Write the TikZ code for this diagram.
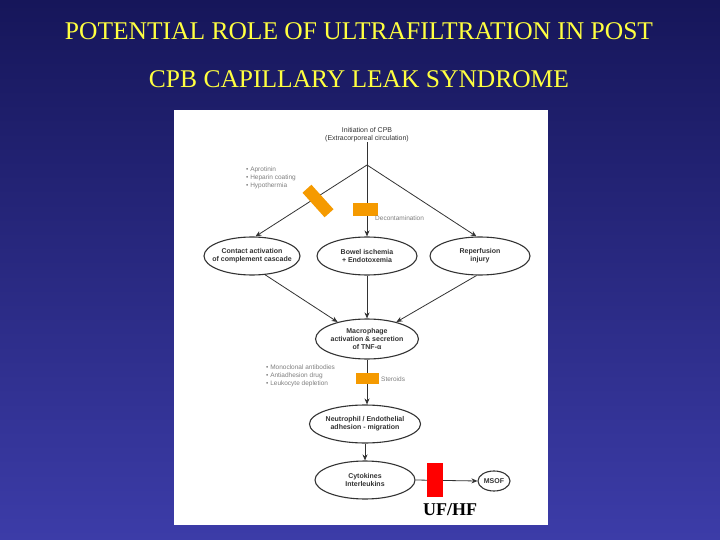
\documentclass[tikz,border=0pt]{standalone}
\usepackage{fontspec}
\setmainfont{Liberation Serif}
\newfontfamily\diag{Liberation Sans}
\usetikzlibrary{shapes.geometric,arrows.meta}
\definecolor{bgtop}{HTML}{16165A}
\definecolor{bgbot}{HTML}{3C3CA8}
\definecolor{ttl}{HTML}{FFFF40}
\definecolor{org}{HTML}{F59A00}
\definecolor{ink}{HTML}{333333}
\tikzset{
  ell/.style={ellipse,draw=ink,line width=1.1pt,minimum width=100pt,minimum height=38pt,inner sep=0pt,align=center,font=\diag\fontsize{7}{8}\selectfont\bfseries,text=ink},
  lbl/.style={font=\diag\fontsize{6.5}{8}\selectfont,text=gray,align=left,inner sep=0pt},
  arr/.style={draw=ink,line width=0.8pt,-{Stealth[length=6pt,width=5pt]}},
  ln/.style={draw=ink,line width=0.8pt},
  block/.style={fill=org,draw=none},
  ttlf/.style={font=\fontsize{25.5}{30}\selectfont,text=ttl}
}
\begin{document}
\begin{tikzpicture}[x=1pt,y=-1pt]
\shade[top color=bgtop,bottom color=bgbot] (0,0) rectangle (720,540);
\useasboundingbox (0,0) rectangle (720,540);
\node[ttlf] (t1) at (359,31) {POTENTIAL ROLE OF ULTRAFILTRATION IN POST};
\node[ttlf] (t2) at (359,79) {CPB CAPILLARY LEAK SYNDROME};
\fill[white] (174,110) rectangle (548,525);
\node[font=\diag\fontsize{7}{8}\selectfont,text=ink,align=center,inner sep=0pt] (init) at (367,135) {Initiation of CPB\\(Extracorporeal circulation)};
\coordinate (split) at (367,165);
\node[ell,minimum width=96pt,inner xsep=-6pt] (contact) at (252,256) {Contact activation\\of complement cascade};
\node[ell] (bowel) at (367,256) {Bowel ischemia\\+ Endotoxemia};
\node[ell] (rep) at (480,256) {Reperfusion\\injury};
\node[ell,minimum height=40pt] (mac) at (367,339) {Macrophage\\activation \& secretion\\of TNF-α};
\node[ell] (neu) at (365,424) {Neutrophil / Endothelial\\adhesion - migration};
\node[ell] (cyt) at (365,480) {Cytokines\\Interleukins};
\node[ell,minimum width=32pt,minimum height=20pt] (msof) at (494,481) {MSOF};
\draw[ln] (init.south) -- (split);
\draw[arr] (split) -- (contact.80);
\draw[arr] (split) -- (bowel.north);
\draw[arr] (split) -- (rep.100);
\draw[arr] (contact.-55) -- (mac.150);
\draw[arr] (bowel.south) -- (mac.north);
\draw[arr] (rep.-100) -- (mac.30);
\draw[arr] (mac.south) -- (mac.south |- neu.north);
\draw[arr] (neu.south) -- (cyt.north);
\draw[arr] (cyt.east) -- (msof.west);
\node[block,minimum width=33pt,minimum height=12pt,inner sep=0pt,rotate=-48] (b1) at (318,201) {};
\node[block,minimum width=25pt,minimum height=13pt,inner sep=0pt] (b2) at (365,210) {};
\node[block,minimum width=23pt,minimum height=11pt,inner sep=0pt] (b3) at (367,378) {};
\node[fill=red,minimum width=16pt,minimum height=34pt,inner sep=0pt] (b4) at (435,480) {};
\node[lbl,anchor=west] (deco) at (375,218) {Decontamination};
\node[lbl,anchor=west] (ster) at (381,379) {Steroids};
\node[lbl,anchor=north west] (bul1) at (246,167) {\textbullet\ Aprotinin\\\textbullet\ Heparin coating\\\textbullet\ Hypothermia};
\node[lbl,anchor=north west] (bul2) at (266,365) {\textbullet\ Monoclonal antibodies\\\textbullet\ Antiadhesion drug\\\textbullet\ Leukocyte depletion};
\node[font=\fontsize{18}{20}\selectfont\bfseries,inner sep=0pt] (uf) at (450,510) {UF/HF};
\end{tikzpicture}
\end{document}
